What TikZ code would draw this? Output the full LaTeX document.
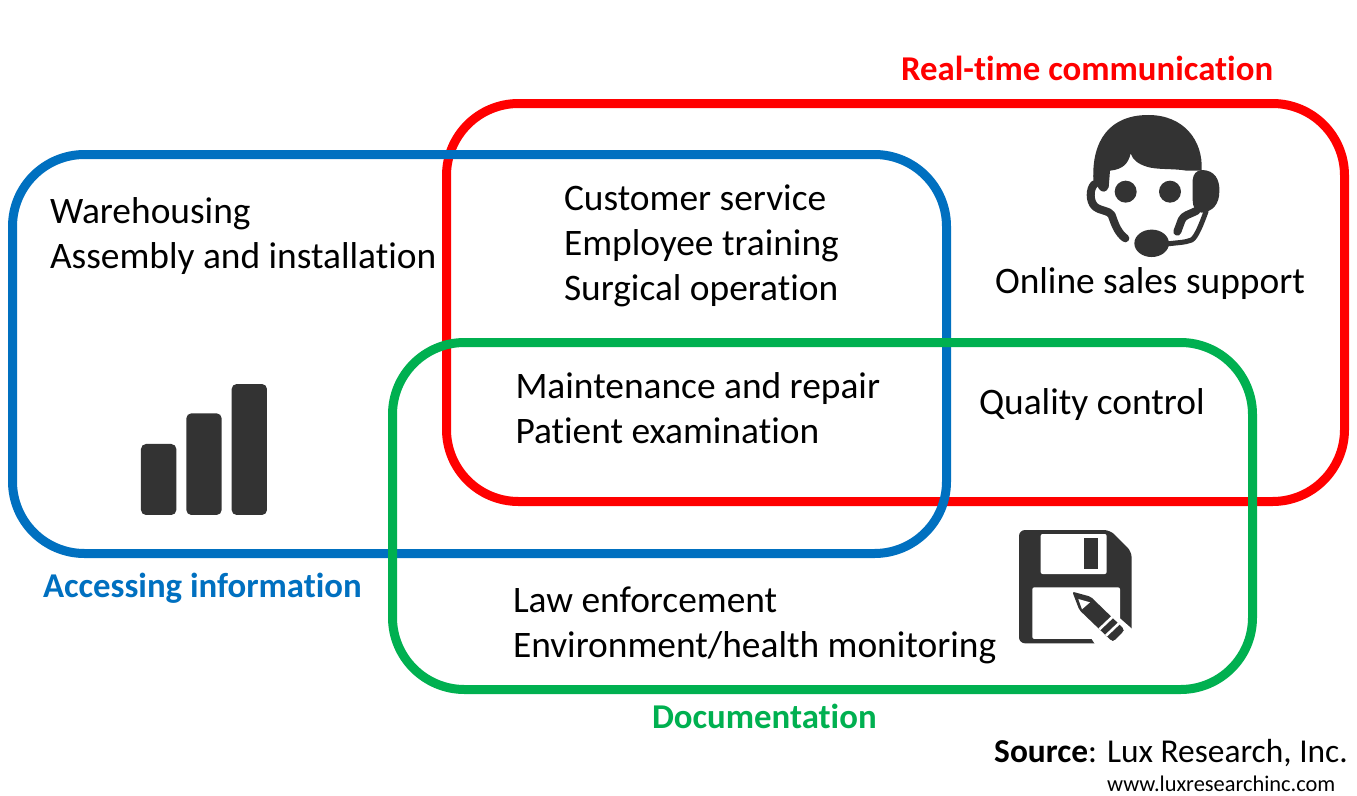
\documentclass[tikz,border=0pt]{standalone}
\usepackage{fontspec}
\setmainfont[Ligatures=NoCommon]{Carlito}
\definecolor{bluec}{HTML}{0070C0}
\definecolor{redc}{HTML}{FF0000}
\definecolor{greenc}{HTML}{00B050}
\definecolor{icon}{HTML}{333333}
\tikzset{
  setbox/.style={line width=9pt, rounded corners=72pt},
  body/.style={anchor=base west, inner sep=0pt, outer sep=0pt, font=\fontsize{37.4}{37.4}\selectfont, text=black},
  head/.style={anchor=base west, inner sep=0pt, outer sep=0pt, font=\fontsize{34.8}{34.8}\selectfont\bfseries},
  ic/.style={fill=icon, draw=none},
  icl/.style={draw=icon, line cap=round, line join=round}
}
\begin{document}
\begin{tikzpicture}[x=1pt,y=-1pt]
\useasboundingbox (0,0) rectangle (1357,795);
\fill[white] (0,0) rectangle (1357,795);
% set outlines
\draw[setbox,draw=redc] (446.5,103.5) rectangle (1344.5,501.5);
\draw[setbox,draw=bluec] (12.5,154.5) rectangle (946.5,553.5);
\draw[setbox,draw=greenc] (392.5,342.5) rectangle (1252.5,689.5);
% titles
\node[head,text=redc] (tred) at (901,80) {Real-time communication};
\node[head,text=bluec] (tblue) at (43,597) {Accessing information};
\node[head,text=greenc] (tgreen) at (652,728) {Documentation};
% body texts
\node[body] (a1) at (50,223) {Warehousing};
\node[body] (a2) at (50,268) {Assembly and installation};
\node[body] (b1) at (564,210) {Customer service};
\node[body] (b2) at (564,255) {Employee training};
\node[body] (b3) at (564,300) {Surgical operation};
\node[body] (c1) at (995,293) {Online sales support};
\node[body] (d1) at (515.5,398) {Maintenance and repair};
\node[body] (d2) at (515.5,443) {Patient examination};
\node[body] (e1) at (979,414) {Quality control};
\node[body] (f1) at (513,612) {Law enforcement};
\node[body] (f2) at (513,657) {Environment/health monitoring};
% source
\node[anchor=base west,inner sep=0pt,font=\fontsize{33.4}{33.4}\selectfont] (src) at (994,762) {\textbf{Source}: Lux Research, Inc.};
\node[anchor=base west,inner sep=0pt,font=\fontsize{22.4}{22.4}\selectfont] (url) at (1107,791) {www.luxresearchinc.com};
% bars icon
\begin{scope}[shift={(120,370)},x=0.3333pt,y=-0.3333pt]
\fill[ic,rounded corners=5pt] (63,222) rectangle (169,435);
\fill[ic,rounded corners=5pt] (199,130) rectangle (305,435);
\fill[ic,rounded corners=5pt] (335,42) rectangle (441,435);
\end{scope}
% headset icon
\begin{scope}[shift={(1060,100)},x=0.3333pt,y=-0.3333pt]
\fill[ic] (100,240) .. controls (95,120) and (150,45) .. (265,45)
  .. controls (370,45) and (430,120) .. (425,212)
  -- (380,212) .. controls (340,205) and (290,210) .. (260,200)
  .. controls (235,192) and (218,180) .. (212,160)
  .. controls (205,190) and (190,208) .. (150,212)
  -- (146,262) .. controls (140,278) and (125,278) .. (118,268) -- cycle;
\draw[icl,line width=8pt] (104,252) .. controls (88,265) and (88,305) .. (105,320)
  .. controls (125,335) and (145,330) .. (155,345)
  .. controls (165,375) and (175,400) .. (196,415);
\fill[ic] (425,210) .. controls (465,210) and (480,240) .. (478,275)
  .. controls (478,310) and (460,335) .. (425,338)
  .. controls (405,335) and (398,320) .. (398,300)
  -- (398,240) .. controls (400,220) and (410,212) .. (425,210) -- cycle;
\draw[icl,line width=8pt] (410,332) .. controls (385,345) and (372,345) .. (365,360) -- (352,395);
\draw[icl,line width=5pt] (320,432) .. controls (350,428) and (375,428) .. (395,420)
  .. controls (410,410) and (425,370) .. (438,335);
\fill[ic] (275,430) ellipse[x radius=17.3pt,y radius=13.7pt];
\fill[ic] (197,275) circle[radius=11pt];
\fill[ic] (330,275) circle[radius=11pt];
\end{scope}
% floppy icon
\begin{scope}[shift={(1000,515)},x=0.3333pt,y=-0.3333pt]
\fill[ic,rounded corners=6pt] (57,45) -- (330,45) -- (395,110) -- (395,385) -- (57,385) -- cycle;
\fill[white,rounded corners=2pt] (122,57) rectangle (320,177);
\fill[ic] (253,70) rectangle (295,163);
\fill[white,rounded corners=2pt] (97,217) rectangle (360,372);
\fill[white] (360,310) -- (400,345) -- (400,395) -- (290,395) -- (275,372) -- cycle;
\fill[ic,rounded corners=2pt] (217,230) -- (272,245) -- (372,342) -- (370,350) -- (342,378) -- (335,378) -- (238,285) -- cycle;
\fill[white] (235,252) -- (270,262) -- (246,283) -- cycle;
\draw[white,line width=2.6pt] (298,343) -- (338,305);
\draw[white,line width=2.6pt] (318,362) -- (358,324);
\end{scope}
\end{tikzpicture}
\end{document}
